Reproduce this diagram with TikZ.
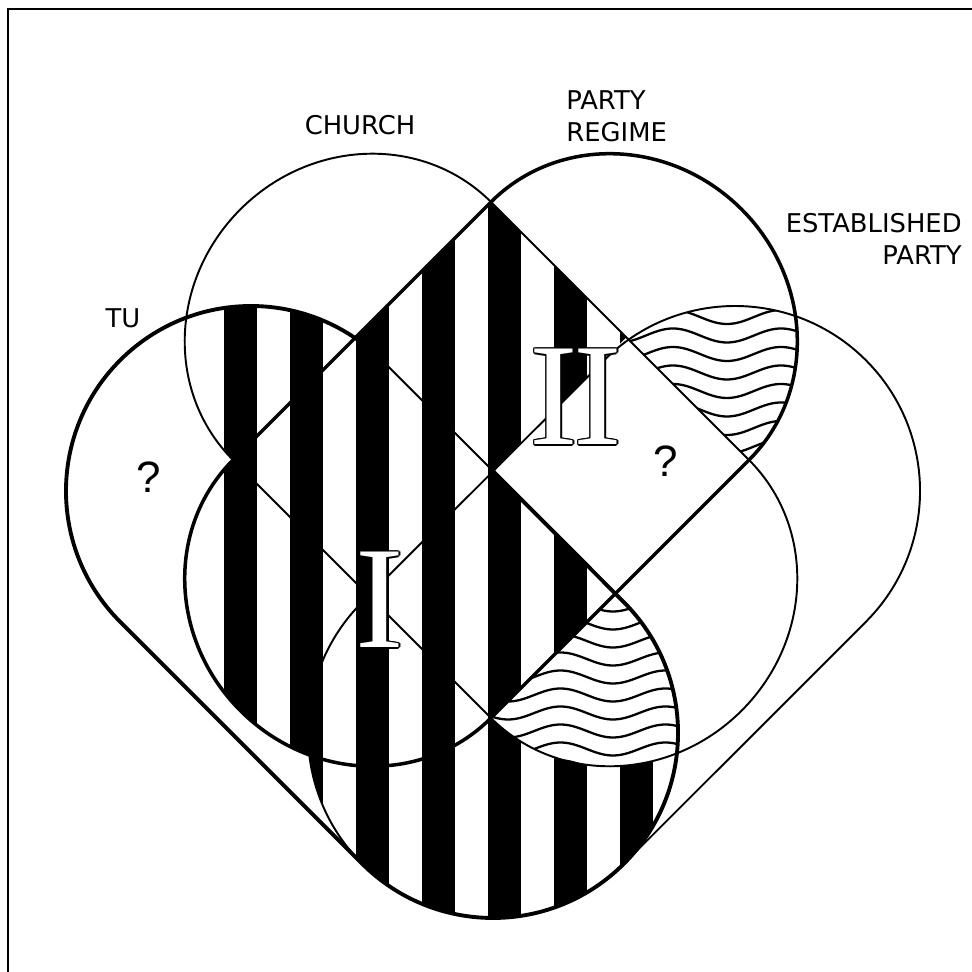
\documentclass[tikz,border=0pt]{standalone}
\usepackage{fontspec}
\setmainfont{DejaVu Sans}
\newfontfamily\qfont{Liberation Sans}
\newfontfamily\romfont{Liberation Serif}
\newcommand\capPath{(182.43,0) arc[start angle=0,end angle=180,x radius=182.43,y radius=172] -- cycle}
\newcommand\capArc{(182.43,0) arc[start angle=0,end angle=180,x radius=182.43,y radius=172]}
\newcommand\pTU{(381.8,611.8) arc[start angle=45,end angle=225,radius=185] -- (362.2,108.2) arc[start angle=225,end angle=405,radius=185] -- cycle}
\newcommand\pEST{(604.2,611.8) arc[start angle=135,end angle=-45,radius=185] -- (623.8,108.2) arc[start angle=-45,end angle=-225,radius=185] -- cycle}
\newcommand\stripesFill{\foreach \sx in {224,290,...,752}{\fill[black] (\sx,0) rectangle ++(33,972);}}
\newcommand\outlinedlabel[3]{%
  \foreach \dx/\dy [count=\i] in {1.6/0,-1.6/0,0/1.6,0/-1.6,1.13/1.13,1.13/-1.13,-1.13/1.13,-1.13/-1.13}
    {\node[romlbl,text=black,xshift=\dx*0.02cm,yshift=\dy*0.02cm] (#1s\i) at (#2) {#3};}
  \node[romlbl,text=white] (#1) at (#2) {#3};}
\begin{document}
\begin{tikzpicture}[x=0.02cm,y=0.02cm,
  thinline/.style={line width=1.1pt, line join=round},
  thickline/.style={line width=2.0pt, line join=round},
  tuline/.style={line width=2.2pt, line join=round},
  wave/.style={line width=1.3pt},
  lbl/.style={font=\fontsize{14.7}{18}\selectfont, inner sep=0pt},
  qmark/.style={font=\qfont\fontsize{25}{28}\selectfont, inner sep=0pt},
  romlbl/.style={font=\romfont\fontsize{83}{83}\selectfont, inner sep=0pt}]
\useasboundingbox (0,0) rectangle (972,972);
\coordinate (T) at (491,770);
\coordinate (E) at (749,512);
\coordinate (S) at (491,254);
\coordinate (W) at (233,512);
\coordinate (C) at (493,501);
% stripes
\begin{scope}\clip (T) -- (E) -- (S) -- (W) -- cycle; \stripesFill \end{scope}
\begin{scope}\clip \pTU; \clip[shift={(362,641)},rotate=45] \capPath; \stripesFill \end{scope}
\begin{scope}\clip \pTU; \clip[shift={(362,383)},rotate=135] \capPath; \stripesFill \end{scope}
\begin{scope}\clip \pTU; \clip \pEST; \stripesFill \end{scope}
% blank east quadrant
\fill[white] (C) -- (626.5,634.5) -- (E) -- (615.5,378.5) -- cycle;
% lower waves
\begin{scope}
  \clip[shift={(620,383)},rotate=225] \capPath;
  \clip (493,239) circle[radius=185];
  \fill[white] (400,100) rectangle (800,500);
  \foreach \k in {-2,...,12}{\draw[wave] plot[domain=470:700,samples=90,smooth] (\x,{367-18*\k-6.5*cos(3.4286*(\x-613))});}
\end{scope}
% upper waves
\begin{scope}
  \clip[shift={(620,641)},rotate=-45] \capPath;
  \clip (735,481) circle[radius=185];
  \foreach \k in {0,...,9}{\draw[wave] plot[domain=600:820,samples=90,smooth] (\x,{655-18.5*\k-7*cos(3.33*(\x-727))});}
\end{scope}
% CHURCH (thin)
\draw[thinline,shift={(362,641)},rotate=45] \capArc;
\draw[thinline,shift={(620,383)},rotate=225] \capArc;
\draw[thinline] (T) -- (E);
\draw[thinline] (S) -- (W);
% ESTABLISHED PARTY (thin)
\draw[thinline] \pEST;
% PARTY REGIME (thick)
\draw[thickline,shift={(620,641)},rotate=-45] \capArc;
\draw[thickline,shift={(362,383)},rotate=135] \capArc;
\draw[thickline] (W) -- (T);
\draw[thickline] (E) -- (S);
% TU (thick)
\draw[tuline] (381.8,611.8) arc[start angle=45,end angle=225,radius=185] -- (362.2,108.2) arc[start angle=225,end angle=405,radius=185] -- (C);
\draw[thinline] (C) -- (381.8,611.8);
% frame
\draw[line width=1.1pt] (972,963) -- (8,963) -- (8,0);
% labels
\node[lbl] (church) at (360,847) {CHURCH};
\node[lbl,align=left,anchor=west] (regime) at (566,856) {PARTY\\REGIME};
\node[lbl,align=right,anchor=east] (est) at (962,733) {ESTABLISHED\\PARTY};
\node[lbl] (tu) at (123,654) {TU};
\node[qmark] (q1) at (149,495) {?};
\node[qmark] (q2) at (666,511) {?};
\outlinedlabel{one}{380,372}{I}
\outlinedlabel{two}{576,575}{I\kern-2.6pt I}
\end{tikzpicture}
\end{document}
